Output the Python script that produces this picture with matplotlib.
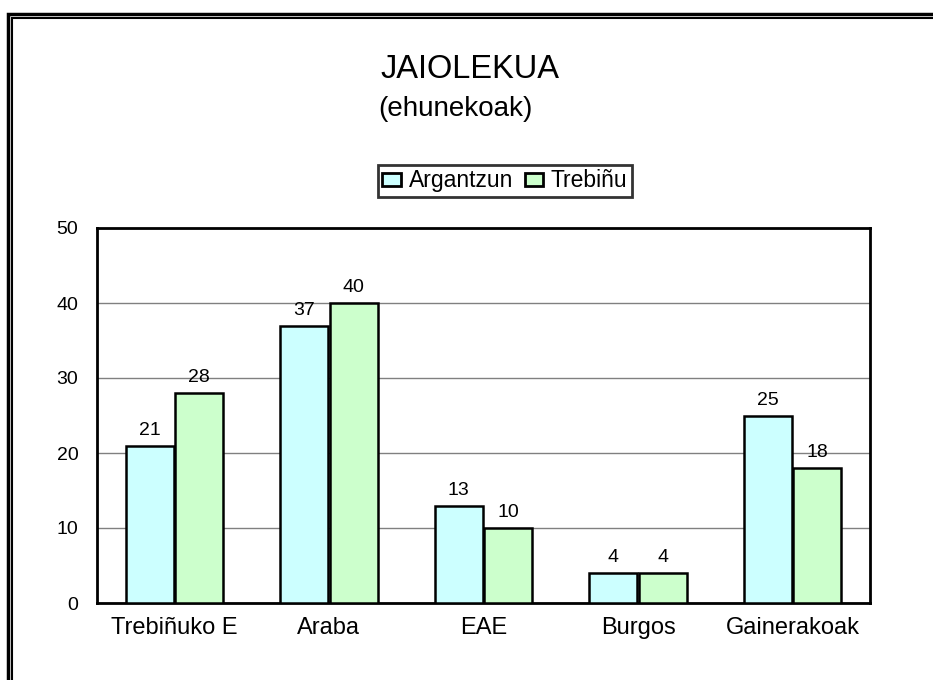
import matplotlib
matplotlib.use("Agg")
import matplotlib.pyplot as plt
from matplotlib.patches import Rectangle
import numpy as np

plt.rcParams['font.family'] = ['Liberation Sans', 'DejaVu Sans']

categories = ["Trebiñuko E", "Araba", "EAE", "Burgos", "Gainerakoak"]
argantzun = [21, 37, 13, 4, 25]
trebinu = [28, 40, 10, 4, 18]
series_names = ["Argantzun", "Trebiñu"]
colors = ["#CCFFFF", "#CCFFCC"]

fig = plt.figure(figsize=(9.33, 6.8), dpi=100)
W, H = 933, 680

# double border
for (x0, y0), lw in [((8, 14), 2.5), ((12, 18), 1.5)]:
    fig.add_artist(Rectangle((x0 / W, 1 - 700 / H), (960 - x0) / W, (700 - y0) / H,
                             transform=fig.transFigure, fill=False, ec='black', lw=lw))

ax = fig.add_axes([97 / W, 1 - 603 / H, (870 - 97) / W, (603 - 228) / H])
x = np.arange(len(categories))
w = 0.31
gap = 0.01
for i, (vals, c, name) in enumerate(zip([argantzun, trebinu], colors, series_names)):
    off = -(w + gap) / 2 if i == 0 else (w + gap) / 2
    bars = ax.bar(x + off, vals, w, color=c, edgecolor='black', linewidth=1.8, label=name, zorder=3)
    for b, v in zip(bars, vals):
        ax.text(b.get_x() + b.get_width() / 2, v + 1.45, f"{v}", ha='center', va='baseline', fontsize=14)

ax.set_xlim(-0.5, len(categories) - 0.5)
ax.set_ylim(0, 50)
ax.set_yticks([0, 10, 20, 30, 40, 50])
ax.yaxis.grid(True, color='#808080', linewidth=1)
ax.set_axisbelow(True)
ax.set_xticks(x)
ax.set_xticklabels(categories, fontsize=17)
ax.tick_params(axis='y', labelsize=14, length=0, pad=13.5)
ax.tick_params(axis='x', length=0, pad=10)
for s in ax.spines.values():
    s.set_linewidth(2)

fig.text(470 / W, 1 - 78 / H, "JAIOLEKUA", ha='center', va='baseline', fontsize=23.5)
fig.text(455 / W, 1 - 116 / H, "(ehunekoak)", ha='center', va='baseline', fontsize=20)

leg = fig.legend(loc='center', bbox_to_anchor=(505 / W, 1 - 181 / H), ncol=2, fontsize=16.5,
                 frameon=True, fancybox=False, edgecolor='black', handlelength=0.8,
                 handleheight=0.5, handletextpad=0.35, columnspacing=0.5, borderpad=0.2)
leg.get_frame().set_linewidth(2)
for h in leg.legend_handles:
    h.set_linewidth(2)

fig.savefig("out.png", dpi=100)
